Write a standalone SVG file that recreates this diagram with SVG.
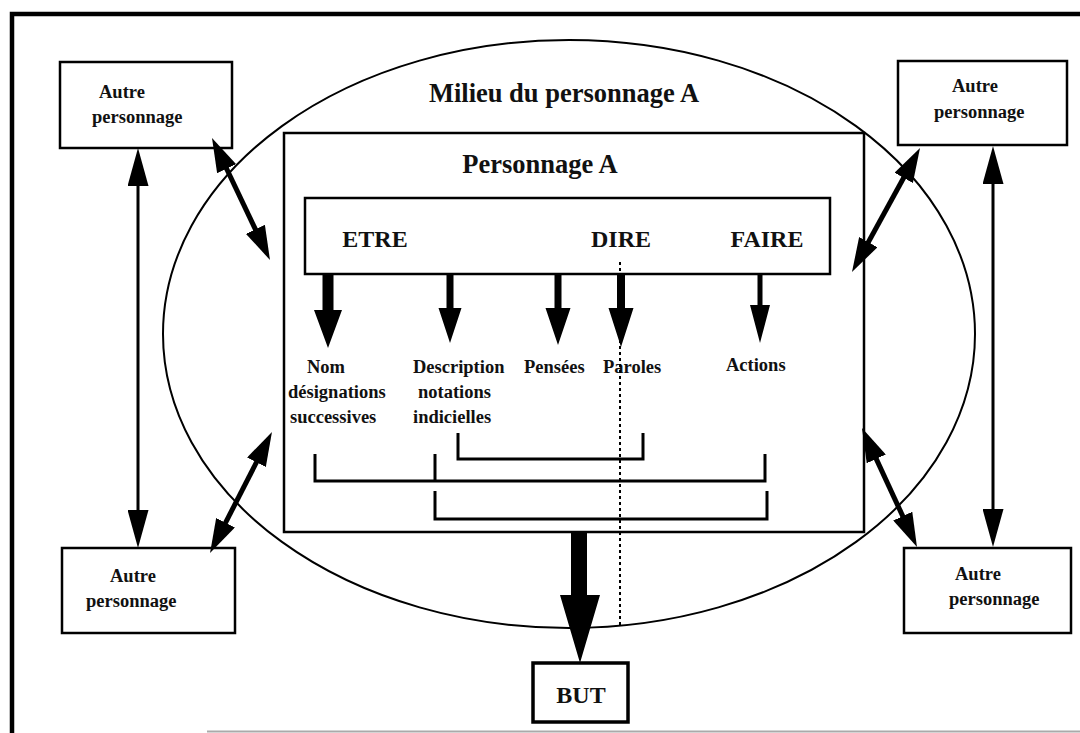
<svg xmlns="http://www.w3.org/2000/svg" width="1080" height="733" viewBox="0 0 1080 733">
<defs>
<style>
.t{font-family:"Liberation Serif","Times New Roman",serif;font-weight:bold;fill:#111}
.box{fill:#fff;stroke:#000;stroke-width:2.5}
.ln{stroke:#000;fill:none}
</style>
<marker id="ah" viewBox="0 0 34 21" markerWidth="34" markerHeight="21" refX="24" refY="10.5" markerUnits="userSpaceOnUse" orient="auto-start-reverse">
<path d="M0,0 L34,10.5 L0,21 z" fill="#000"/>
</marker>
<marker id="av" viewBox="0 0 38 21" markerWidth="38" markerHeight="21" refX="28" refY="10.5" markerUnits="userSpaceOnUse" orient="auto-start-reverse">
<path d="M0,0 L38,10.5 L0,21 z" fill="#000"/>
</marker>
</defs>
<rect width="1080" height="733" fill="#fff"/>
<g id="frame">
<path d="M12,733 V14 H1080" fill="none" stroke="#000" stroke-width="4.5"/>
<line x1="207" y1="731.5" x2="1080" y2="731.5" stroke="#aaa" stroke-width="2"/>
</g>
<g id="milieu">
<ellipse cx="569" cy="334" rx="406" ry="294" fill="none" stroke="#000" stroke-width="2"/>
<text class="t" x="564" y="102" font-size="26.5" text-anchor="middle">Milieu du personnage A</text>
</g>
<g id="personnage-a">
<rect class="box" x="284" y="133" width="580" height="399"/>
<text class="t" x="540" y="173" font-size="26.5" text-anchor="middle">Personnage A</text>
</g>
<g id="etre-dire-faire">
<rect class="box" x="305" y="198" width="525" height="76"/>
<text class="t" x="375" y="247" font-size="24" text-anchor="middle">ETRE</text>
<text class="t" x="621" y="247" font-size="24" text-anchor="middle">DIRE</text>
<text class="t" x="767" y="247" font-size="24" text-anchor="middle">FAIRE</text>
</g>
<g id="labels">
<text class="t" font-size="18.5"><tspan x="307" y="373">Nom</tspan><tspan x="288" y="398">désignations</tspan><tspan x="290" y="423">successives</tspan></text>
<text class="t" font-size="18.5"><tspan x="413" y="373">Description</tspan><tspan x="418" y="398">notations</tspan><tspan x="413" y="423">indicielles</tspan></text>
<text class="t" font-size="18.5" x="524" y="373">Pensées</text>
<text class="t" font-size="18.5" x="603" y="373">Paroles</text>
<text class="t" font-size="18.5" x="726" y="371">Actions</text>
</g>
<g id="autre-tl">
<rect class="box" x="60" y="62" width="172" height="86"/>
<text class="t" font-size="18.5"><tspan x="99" y="98">Autre</tspan><tspan x="92" y="123">personnage</tspan></text>
</g>
<g id="autre-tr">
<rect class="box" x="898" y="61" width="169" height="84"/>
<text class="t" font-size="18.5"><tspan x="952" y="92">Autre</tspan><tspan x="934" y="118">personnage</tspan></text>
</g>
<g id="autre-bl">
<rect class="box" x="62" y="548" width="173" height="85"/>
<text class="t" font-size="18.5"><tspan x="110" y="582">Autre</tspan><tspan x="86" y="607">personnage</tspan></text>
</g>
<g id="autre-br">
<rect class="box" x="904" y="548" width="167" height="85"/>
<text class="t" font-size="18.5"><tspan x="955" y="580">Autre</tspan><tspan x="949" y="605">personnage</tspan></text>
</g>
<g id="but">
<rect x="533" y="663" width="95" height="59" fill="#fff" stroke="#000" stroke-width="3.5"/>
<text class="t" x="581" y="703" font-size="24" text-anchor="middle">BUT</text>
</g>
<g id="connectors">
<line x1="620" y1="262" x2="620" y2="627" stroke="#000" stroke-width="2" stroke-dasharray="3,3"/>
<path d="M322.5,274 H333.5 V310 H342 L328,348 L314,310 H322.5 Z"/>
<path d="M446.5,274 H453.5 V308 H461.5 L450,343 L438.5,308 H446.5 Z"/>
<path d="M554.5,274 H561.5 V308 H570.5 L558,345 L545.5,308 H554.5 Z"/>
<path d="M617,274 H625 V308 H633.5 L621,347 L608.5,308 H617 Z"/>
<path d="M757.5,274 H762.5 V305 H770 L760,343 L750,305 H757.5 Z"/>
<path d="M571,532 H587 V595 H600 L580,663 L560,595 H571 Z"/>
<path class="ln" stroke-width="3" d="M458,433 V459 H643 V433"/>
<path class="ln" stroke-width="3" d="M315,454 V481 H765 V454 M435,454 V481"/>
<path class="ln" stroke-width="3" d="M435,491 V519 H767 V491"/>
<line class="ln" x1="216.3" y1="147" x2="265.7" y2="251" stroke-width="5" marker-start="url(#ah)" marker-end="url(#ah)"/>
<line class="ln" x1="267.4" y1="440.9" x2="214.6" y2="544.1" stroke-width="5" marker-start="url(#ah)" marker-end="url(#ah)"/>
<line class="ln" x1="915.2" y1="156.8" x2="856.8" y2="263.2" stroke-width="5" marker-start="url(#ah)" marker-end="url(#ah)"/>
<line class="ln" x1="866.2" y1="437.1" x2="912.8" y2="537.9" stroke-width="5" marker-start="url(#ah)" marker-end="url(#ah)"/>
<line class="ln" x1="138" y1="158" x2="138" y2="538" stroke-width="3" marker-start="url(#av)" marker-end="url(#av)"/>
<line class="ln" x1="993" y1="156" x2="993" y2="537" stroke-width="3" marker-start="url(#av)" marker-end="url(#av)"/>
</g>
</svg>
